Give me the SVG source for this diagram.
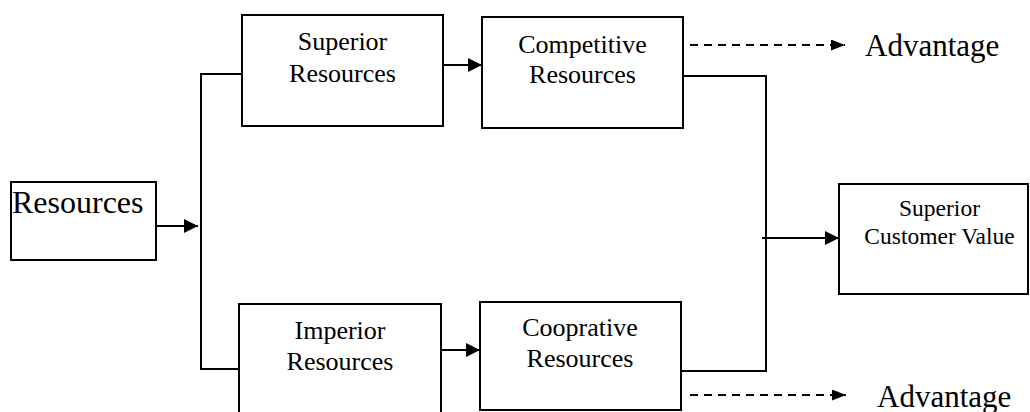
<svg xmlns="http://www.w3.org/2000/svg" width="1030" height="412" viewBox="0 0 1030 412">
  <style>
    .box { fill: #ffffff; stroke: #000000; stroke-width: 2; }
    .lbl { font-family: "Liberation Serif", "Times New Roman", serif; fill: #000000; text-anchor: middle; font-size: 26px; }
    .big { font-family: "Liberation Serif", "Times New Roman", serif; fill: #000000; font-size: 31px; }
    .wire { fill: none; stroke: #000000; stroke-width: 2; }
    .dash { fill: none; stroke: #000000; stroke-width: 2; stroke-dasharray: 8 6; }
  </style>
  <defs>
    <marker id="arrow" viewBox="0 0 14 14" refX="14" refY="7" markerWidth="14" markerHeight="14" markerUnits="userSpaceOnUse" orient="auto">
      <path d="M0,0 L14,7 L0,14 Z" fill="#000000"/>
    </marker>
    <marker id="arrow-small" viewBox="0 0 14 11" refX="14" refY="5.5" markerWidth="14" markerHeight="11" markerUnits="userSpaceOnUse" orient="auto">
      <path d="M0,0 L14,5.5 L0,11 Z" fill="#000000"/>
    </marker>
  </defs>
  <rect width="1030" height="412" fill="#ffffff"/>

  <g id="connectors">
    <!-- Resources into the splitter -->
    <line class="wire" x1="156" y1="226" x2="198" y2="226" marker-end="url(#arrow)"/>
    <!-- splitter: vertical bus to both branches -->
    <polyline class="wire" points="242,74 201,74 201,369 239,369"/>
    <!-- branch arrows -->
    <line class="wire" x1="443" y1="65" x2="482" y2="65" marker-end="url(#arrow)"/>
    <line class="wire" x1="441" y1="350" x2="480" y2="350" marker-end="url(#arrow)"/>
    <!-- merge toward customer value -->
    <polyline class="wire" points="683,76 766,76 766,371 681,371"/>
    <line class="wire" x1="762" y1="238" x2="839" y2="238" marker-end="url(#arrow)"/>
    <!-- dashed advantage arrows -->
    <line class="dash" x1="690" y1="45" x2="845" y2="45" marker-end="url(#arrow-small)"/>
    <line class="dash" x1="690" y1="395" x2="846" y2="395" marker-end="url(#arrow-small)"/>
  </g>

  <g id="resources">
    <rect class="box" x="11" y="182" width="145" height="78"/>
    <text class="big" x="12" y="213" style="font-size:32px">Resources</text>
  </g>

  <g id="superior-resources">
    <rect class="box" x="242" y="15" width="201" height="111"/>
    <text class="lbl" x="342.5" y="50">Superior</text>
    <text class="lbl" x="342.5" y="82">Resources</text>
  </g>

  <g id="imperior-resources">
    <rect class="box" x="239" y="304" width="202" height="120"/>
    <text class="lbl" x="340" y="339">Imperior</text>
    <text class="lbl" x="340" y="370">Resources</text>
  </g>

  <g id="competitive-resources">
    <rect class="box" x="482" y="17" width="201" height="111"/>
    <text class="lbl" x="582.5" y="53">Competitive</text>
    <text class="lbl" x="582.5" y="83">Resources</text>
  </g>

  <g id="cooprative-resources">
    <rect class="box" x="480" y="302" width="201" height="108"/>
    <text class="lbl" x="580" y="336">Cooprative</text>
    <text class="lbl" x="580" y="367">Resources</text>
  </g>

  <g id="superior-customer-value">
    <rect class="box" x="839" y="184" width="189" height="110"/>
    <text class="lbl" x="939.5" y="216" style="font-size:23.5px">Superior</text>
    <text class="lbl" x="939.5" y="244" style="font-size:23.5px">Customer Value</text>
  </g>

  <g id="advantage-top">
    <text class="big" x="865" y="56">Advantage</text>
  </g>

  <g id="advantage-bottom">
    <text class="big" x="877" y="407">Advantage</text>
  </g>
</svg>
